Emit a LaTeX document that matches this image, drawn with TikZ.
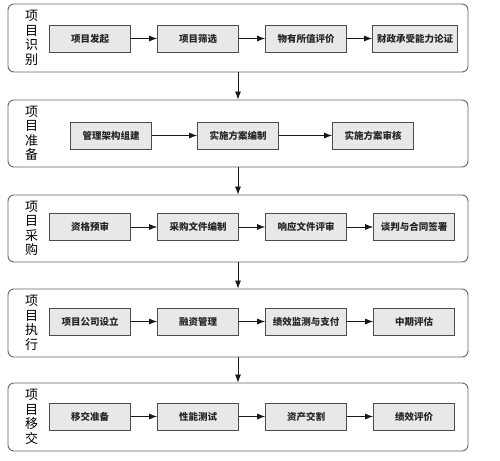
\documentclass[tikz,border=0pt]{standalone}
\usepackage{fontspec}
\newfontfamily\cjk{Noto Sans CJK SC}
\usetikzlibrary{positioning, arrows.meta}

\begin{document}
\begin{tikzpicture}[x=1pt,y=-1pt,node distance=108pt,on grid,
    phase/.style={draw=black!60,line width=0.9pt,rounded corners=6pt,fill=white,
      minimum width=460pt,minimum height=68pt},
    stage/.style={font=\cjk\fontsize{13}{14.5}\selectfont,align=center,text=black},
    task/.style={draw=black!70,line width=0.8pt,fill=black!9,minimum width=81pt,
      minimum height=27pt,inner sep=1pt,font=\cjk\bfseries\fontsize{9.5}{10}\selectfont,text=black!85},
    flow/.style={-{Latex[length=8pt,width=6pt]},line width=0.7pt,black!90}]
   \useasboundingbox (0,0) rectangle (500,460);

   % 项目识别
   \node[phase] (p1) at (238,38) {};
   \node[stage] (s1) [right=14pt of p1.west] {项\\目\\识\\别};
   \node[task] (a1) at (90,38.5) {项目发起};
   \node[task] (a2) [right=of a1] {项目筛选};
   \node[task] (a3) [right=of a2] {物有所值评价};
   \node[task,minimum width=85pt] (a4) [right=109pt of a3] {财政承受能力论证};

   % 项目准备
   \node[phase,minimum height=67pt] (p2) at (238,133.5) {};
   \node[stage] (s2) [right=14pt of p2.west] {项\\目\\准\\备};
   \node[task] (b1) at (111,135.5) {管理架构组建};
   \node[task] (b2) [right=127pt of b1] {实施方案编制};
   \node[task] (b3) [right=135pt of b2] {实施方案审核};

   % 项目采购
   \node[phase,minimum height=67pt] (p3) at (238,228.5) {};
   \node[stage] (s3) [right=14pt of p3.west] {项\\目\\采\\购};
   \node[task] (c1) at (90,227) {资格预审};
   \node[task] (c2) [right=of c1] {采购文件编制};
   \node[task] (c3) [right=of c2] {响应文件评审};
   \node[task] (c4) [right=of c3] {谈判与合同签署};

   % 项目执行
   \node[phase] (p4) at (238,323) {};
   \node[stage] (s4) [right=14pt of p4.west] {项\\目\\执\\行};
   \node[task] (d1) at (90,321.5) {项目公司设立};
   \node[task] (d2) [right=of d1] {融资管理};
   \node[task] (d3) [right=of d2] {绩效监测与支付};
   \node[task] (d4) [right=of d3] {中期评估};

   % 项目移交
   \node[phase] (p5) at (238,417) {};
   \node[stage] (s5) [right=14pt of p5.west] {项\\目\\移\\交};
   \node[task] (e1) at (90,416.5) {移交准备};
   \node[task] (e2) [right=of e1] {性能测试};
   \node[task] (e3) [right=of e2] {资产交割};
   \node[task] (e4) [right=of e3] {绩效评价};

   \foreach \r in {a,c,d,e} {
     \draw[flow] (\r1) -- (\r2);
     \draw[flow] (\r2) -- (\r3);
     \draw[flow] (\r3) -- (\r4);
   }
   \draw[flow] (b1) -- (b2);
   \draw[flow] (b2) -- (b3);

   \draw[flow] (p1) -- (p2);
   \draw[flow] (p2) -- (p3);
   \draw[flow] (p3) -- (p4);
   \draw[flow] (p4) -- (p5);
\end{tikzpicture}
\end{document}
